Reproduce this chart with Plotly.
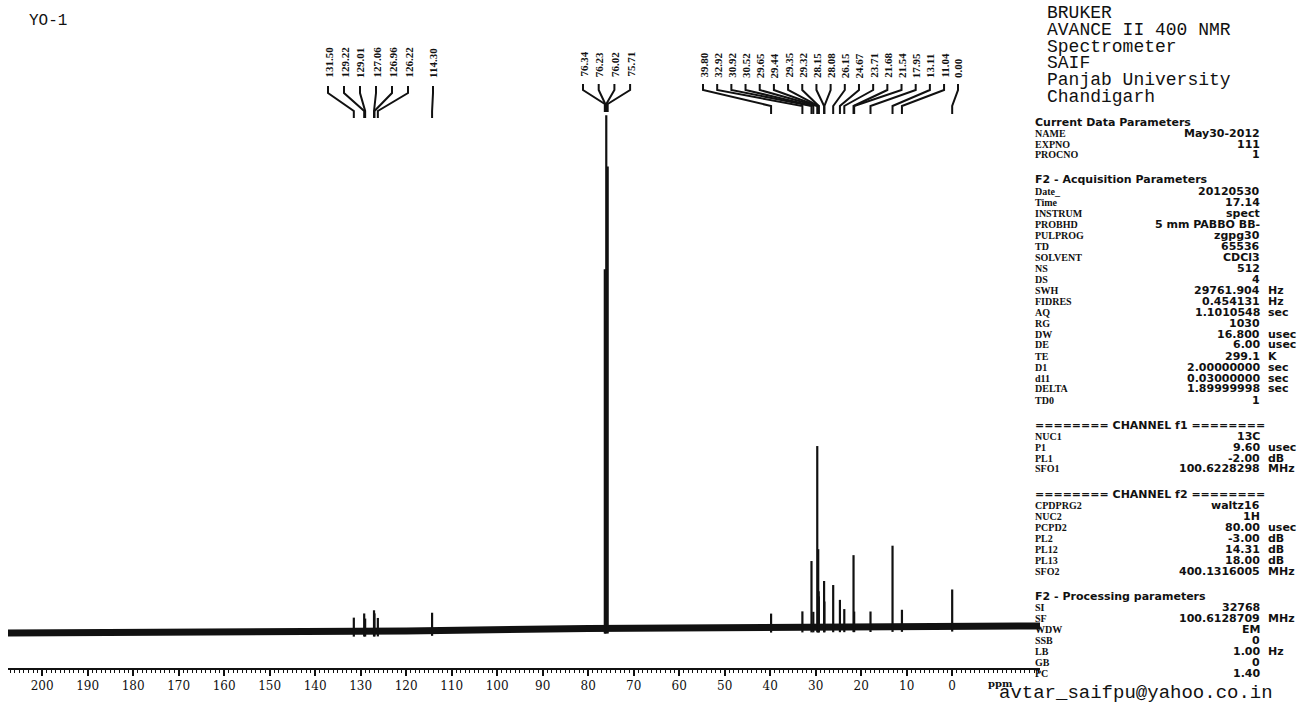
import numpy as np
import plotly.graph_objects as go

# ---------------- data ----------------
title_text = "YO-1"
header_lines = ["BRUKER", "AVANCE II 400 NMR", "Spectrometer", "SAIF",
                "Panjab University", "Chandigarh"]
email_text = "avtar_saifpu@yahoo.co.in"

# labelled peaks (ppm) and their heights (CDCl3 ~ 100)
aromatic_ppm = [131.50, 129.22, 129.01, 127.06, 126.96, 126.22]
aromatic_h = [2.7, 3.5, 2.5, 4.1, 3.5, 2.6]
olefin_ppm = [114.30]
olefin_h = [3.5]
solvent_ppm = [76.34, 76.23, 76.02, 75.71]
solvent_h = [70, 60, 100, 90]
aliphatic_ppm = [39.80, 32.92, 30.92, 30.52, 29.65, 29.44, 29.35, 29.32, 28.15,
                 28.08, 26.15, 24.67, 23.71, 21.68, 21.54, 17.95, 13.11, 11.04]
aliphatic_h = [2.7, 3.1, 12.9, 3.0, 35.3, 15.2, 7.0, 6.0, 9.0,
               5.0, 8.2, 5.3, 3.5, 14.0, 3.0, 3.0, 15.8, 3.3]
tms_ppm = [0.00]
tms_h = [7.2]

# slow baseline drift
baseline_ppm = [207.5, 160, 120, 80, 40, 0, -19.3]
baseline_level = [-1.0, -0.9, -0.6, -0.1, 0.1, 0.3, 0.4]

# axis ticks
tick_values = list(range(0, 201, 10))
tick_text = [str(v) for v in tick_values]

# parameter table
sec_titles = ["Current Data Parameters", "F2 - Acquisition Parameters",
              "======== CHANNEL f1 ========", "======== CHANNEL f2 ========",
              "F2 - Processing parameters"]
sec_names = [
    ["NAME", "EXPNO", "PROCNO"],
    ["Date_", "Time", "INSTRUM", "PROBHD", "PULPROG", "TD", "SOLVENT", "NS", "DS",
     "SWH", "FIDRES", "AQ", "RG", "DW", "DE", "TE", "D1", "d11", "DELTA", "TD0"],
    ["NUC1", "P1", "PL1", "SFO1"],
    ["CPDPRG2", "NUC2", "PCPD2", "PL2", "PL12", "PL13", "SFO2"],
    ["SI", "SF", "WDW", "SSB", "LB", "GB", "PC"],
]
sec_values = [
    ["May30-2012", "111", "1"],
    ["20120530", "17.14", "spect", "5 mm PABBO BB-", "zgpg30", "65536", "CDCl3",
     "512", "4", "29761.904", "0.454131", "1.1010548", "1030", "16.800", "6.00",
     "299.1", "2.00000000", "0.03000000", "1.89999998", "1"],
    ["13C", "9.60", "-2.00", "100.6228298"],
    ["waltz16", "1H", "80.00", "-3.00", "14.31", "18.00", "400.1316005"],
    ["32768", "100.6128709", "EM", "0", "1.00", "0", "1.40"],
]
sec_units = [
    ["", "", ""],
    ["", "", "", "", "", "", "", "", "", "Hz", "Hz", "sec", "", "usec", "usec",
     "K", "sec", "sec", "sec", ""],
    ["", "usec", "dB", "MHz"],
    ["", "", "usec", "dB", "dB", "dB", "MHz"],
    ["", "MHz", "", "", "Hz", "", ""],
]

# ---------------- geometry helpers ----------------
W, H = 1299, 705
PL, PR, PT, PB = 8, 1040, 5, 668          # plot area in pixels
X0, X1 = 207.5, -19.3                     # ppm at left / right edge
Y0, Y1 = -7.8, 121.4                      # intensity at bottom / top


def xp(px):
    return X0 + (px - PL) / (PR - PL) * (X1 - X0)


def yp(py):
    return Y0 + (PB - py) / (PB - PT) * (Y1 - Y0)


def xpap(px):
    return (px - PL) / (PR - PL)


def ypap(py):
    return (PB - py) / (PB - PT)


def ppm2px(v):
    return PL + (X0 - v) / (X0 - X1) * (PR - PL)


def base_at(v):
    return float(np.interp(v, baseline_ppm[::-1], baseline_level[::-1]))


fig = go.Figure()

# baseline band
fig.add_trace(go.Scatter(x=baseline_ppm, y=baseline_level, mode="lines",
                         line=dict(color="#111111", width=7), hoverinfo="skip",
                         showlegend=False))

# peaks
all_ppm = aromatic_ppm + olefin_ppm + solvent_ppm + aliphatic_ppm + tms_ppm
all_h = aromatic_h + olefin_h + solvent_h + aliphatic_h + tms_h
sx, sy = [], []
for p, h in zip(all_ppm, all_h):
    b = base_at(p)
    sx += [p, p, None]
    sy += [b - 1.0, b + h, None]
fig.add_trace(go.Scatter(x=sx, y=sy, mode="lines",
                         line=dict(color="#111111", width=2.2), hoverinfo="skip",
                         showlegend=False))

# peak labels and connectors
label_font = dict(family="Liberation Serif", size=11, color="#111111")
groups = [
    (aromatic_ppm, 328, 16.0, 80, (86, 93, 111, 118)),
    (olefin_ppm, 433, 0.0, 80, (86, 93, 111, 118)),
    (solvent_ppm, 583, 15.7, 79, (84, 90, 104, 112)),
    (aliphatic_ppm, 703, 14.18, 80, (84, 90, 106, 114)),
    (tms_ppm, 958, 0.0, 80, (84, 90, 106, 114)),
]
cx, cy = [], []
annotations = []
for vals, start, step, lab_bottom, (a, b, c, d) in groups:
    for i, v in enumerate(vals):
        lx = start + i * step
        px = ppm2px(v)
        annotations.append(dict(x=xpap(lx), y=ypap(lab_bottom), xref="paper",
                                yref="paper", text="<b>%.2f</b>" % v,
                                textangle=-90, showarrow=False,
                                xanchor="center", yanchor="bottom",
                                font=label_font))
        cx += [xp(lx), xp(lx), xp(px), xp(px), None]
        cy += [yp(a), yp(b), yp(c), yp(d), None]
fig.add_trace(go.Scatter(x=cx, y=cy, mode="lines",
                         line=dict(color="#111111", width=2), hoverinfo="skip",
                         showlegend=False))

# title
annotations.append(dict(x=xpap(27), y=ypap(21), xref="paper", yref="paper",
                        text=title_text, showarrow=False, xanchor="left",
                        yanchor="middle",
                        font=dict(family="Liberation Mono", size=16, color="#111")))

# header block
for i, line in enumerate(header_lines):
    annotations.append(dict(x=xpap(1045), y=ypap(13 + i * 16.8), xref="paper",
                            yref="paper", text=line, showarrow=False,
                            xanchor="left", yanchor="middle",
                            font=dict(family="Liberation Mono", size=18,
                                      color="#111")))

# parameter table
head_font = dict(family="DejaVu Sans", size=11, color="#111")
name_font = dict(family="Liberation Serif", size=10, color="#111")
val_font = dict(family="DejaVu Sans", size=11, color="#111")
ROW, GAP = 11.0, 14.0
yy = 122
for s, title in enumerate(sec_titles):
    if s > 0:
        yy += GAP
    annotations.append(dict(x=xpap(1033), y=ypap(yy), xref="paper", yref="paper",
                            text="<b>%s</b>" % title, showarrow=False,
                            xanchor="left", yanchor="middle", font=head_font))
    for n, v, u in zip(sec_names[s], sec_values[s], sec_units[s]):
        yy += ROW
        annotations.append(dict(x=xpap(1033), y=ypap(yy), xref="paper",
                                yref="paper", text="<b>%s</b>" % n,
                                showarrow=False, xanchor="left",
                                yanchor="middle", font=name_font))
        annotations.append(dict(x=xpap(1262), y=ypap(yy), xref="paper",
                                yref="paper", text="<b>%s</b>" % v,
                                showarrow=False, xanchor="right",
                                yanchor="middle", font=val_font))
        if u:
            annotations.append(dict(x=xpap(1266), y=ypap(yy), xref="paper",
                                    yref="paper", text="<b>%s</b>" % u,
                                    showarrow=False, xanchor="left",
                                    yanchor="middle", font=val_font))
    yy += ROW

# email and ppm label
annotations.append(dict(x=xpap(1136), y=ypap(693), xref="paper", yref="paper",
                        text=email_text, showarrow=False, xanchor="center",
                        yanchor="middle",
                        font=dict(family="Liberation Mono", size=19, color="#111")))
annotations.append(dict(x=xpap(1000), y=ypap(683), xref="paper", yref="paper",
                        text="<b>ppm</b>", showarrow=False, xanchor="center",
                        yanchor="middle",
                        font=dict(family="DejaVu Serif", size=10, color="#111")))

fig.update_layout(
    width=W, height=H, autosize=False,
    margin=dict(l=PL, r=W - PR, t=PT, b=H - PB, pad=0),
    paper_bgcolor="white", plot_bgcolor="white",
    showlegend=False,
    annotations=annotations,
    xaxis=dict(range=[X0, X1], showgrid=False, zeroline=False,
               showline=True, linecolor="#111", linewidth=1.5,
               ticks="outside", ticklen=6, tickwidth=1.5, tickcolor="#111",
               tickmode="array", tickvals=tick_values, ticktext=tick_text,
               tickfont=dict(family="DejaVu Serif", size=12, color="#111"),
               minor=dict(tickmode="linear", tick0=0, dtick=1, ticklen=3,
                          ticks="outside", tickcolor="#111", tickwidth=1)),
    yaxis=dict(range=[Y0, Y1], visible=False, showgrid=False, zeroline=False),
)

fig.write_html("out.html", config={"displayModeBar": False},
               post_script="document.body.style.margin='0';"
                           "document.body.style.overflow='hidden';")
